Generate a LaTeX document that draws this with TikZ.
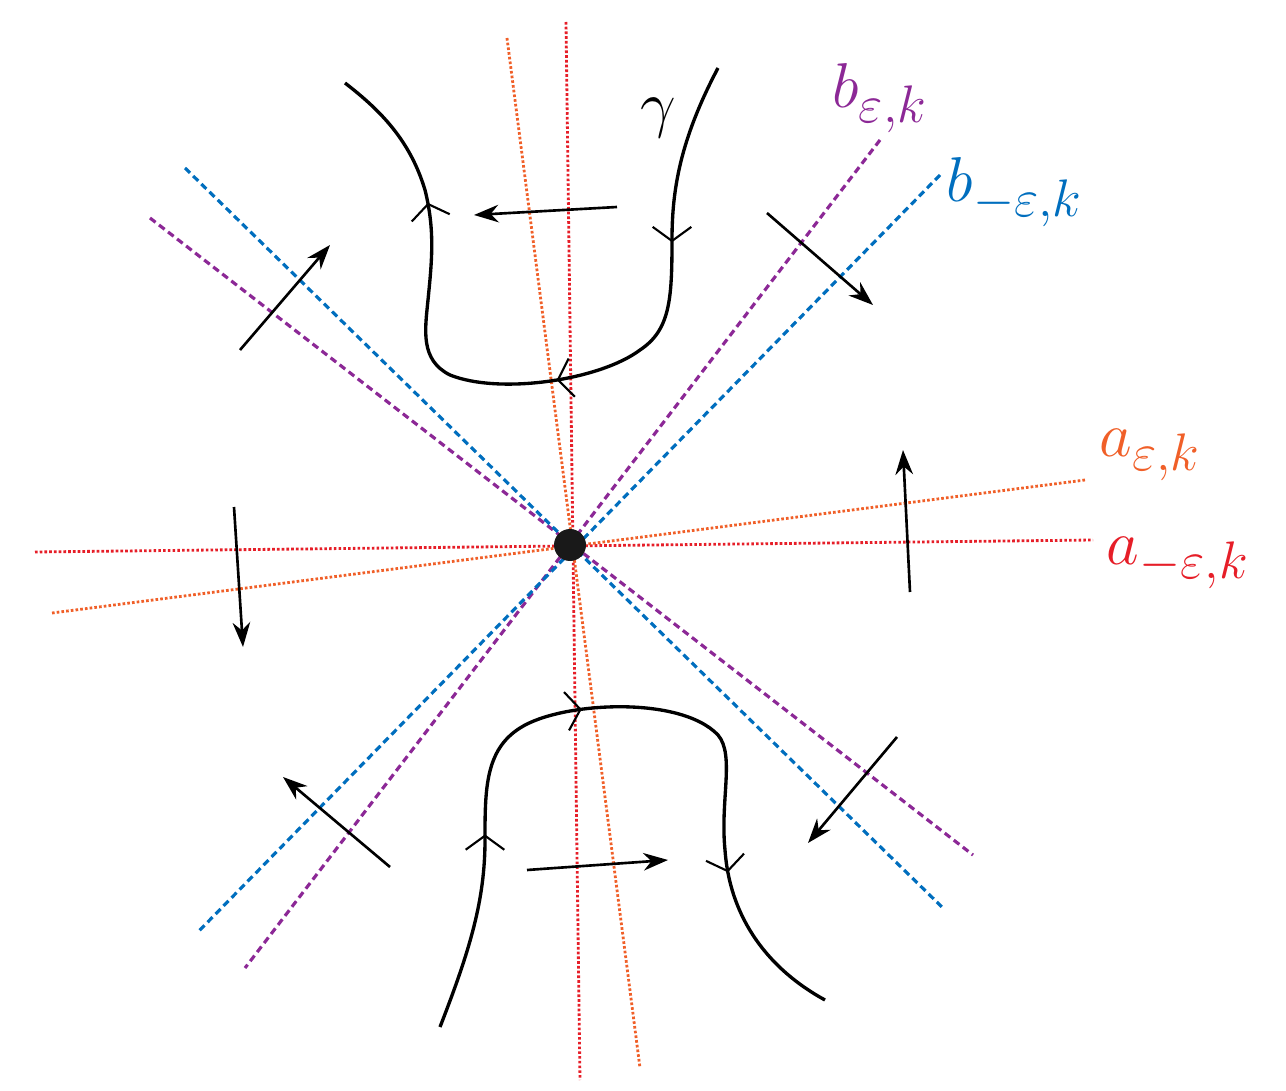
\documentclass[tikz,border=0pt]{standalone}
\usepackage{amsmath}
\usepackage{amssymb}
\usetikzlibrary{arrows.meta,decorations.markings}
\definecolor{lred}{RGB}{230,30,40}
\definecolor{lorange}{RGB}{240,95,40}
\definecolor{lpurple}{RGB}{140,40,150}
\definecolor{lblue}{RGB}{0,110,190}
\begin{document}
\begin{tikzpicture}[x=0.02cm,y=-0.02cm]

	\tikzstyle dotted line=[line width=1.6pt,dash pattern=on 1.5pt off 1.2pt];
	\tikzstyle dashed line=[line width=1.8pt,dash pattern=on 4pt off 2.5pt];
	\tikzstyle flow=[line width=1.5pt,-{Stealth[length=14pt,width=10pt]}];
	\tikzstyle curve=[line width=1.9pt,postaction={decorate}];
	\tikzstyle label=[scale=1.45,font=\Huge];

	\useasboundingbox (0,0) rectangle (1286,1091);

	% lines through the point
	\draw[dotted line,lred] (566,22) -- (580,1080);
	\draw[dotted line,lred] (35,552) -- (1093,540);
	\draw[dotted line,lorange] (507,38) -- (640,1068);
	\draw[dotted line,lorange] (52,613) -- (1085,480);
	\draw[dashed line,lpurple] (880,140) -- (245,968);
	\draw[dashed line,lpurple] (150,218) -- (973,855);
	\draw[dashed line,lblue] (940,175) -- (197,933);
	\draw[dashed line,lblue] (185,168) -- (943,908);

	\fill[black!90] (570,545) circle (16);

	% the curves
	\draw[curve,decoration={markings,
		mark=at position 0.22 with {\arrow{Straight Barb[length=8pt,width=22pt,line width=1.2pt]}},
		mark=at position 0.47 with {\arrow{Straight Barb[length=8pt,width=22pt,line width=1.2pt]}},
		mark=at position 0.82 with {\arrow{Straight Barb[length=8pt,width=22pt,line width=1.2pt]}}}]
		(718,68) .. controls (680,140) and (672,190) .. (672,240)
		.. controls (672,300) and (670,330) .. (640,350)
		.. controls (600,380) and (500,395) .. (450,375)
		.. controls (420,360) and (425,330) .. (428,300)
		.. controls (432,260) and (435,230) .. (425,190)
		.. controls (410,140) and (380,110) .. (345,83);
	\draw[curve,decoration={markings,
		mark=at position 0.24 with {\arrow{Straight Barb[length=8pt,width=22pt,line width=1.2pt]}},
		mark=at position 0.46 with {\arrow{Straight Barb[length=8pt,width=22pt,line width=1.2pt]}},
		mark=at position 0.8 with {\arrow{Straight Barb[length=8pt,width=22pt,line width=1.2pt]}}}]
		(440,1027) .. controls (470,950) and (485,900) .. (485,840)
		.. controls (485,790) and (485,750) .. (520,728)
		.. controls (560,702) and (680,695) .. (718,735)
		.. controls (735,755) and (720,800) .. (725,850)
		.. controls (730,920) and (770,970) .. (825,1000);

	% flow arrows
	\draw[flow] (617,207) -- (474,215);
	\draw[flow] (240,350) -- (330,245);
	\draw[flow] (767,213) -- (873,305);
	\draw[flow] (910,592) -- (903,450);
	\draw[flow] (234,507) -- (243,647);
	\draw[flow] (390,867) -- (283,777);
	\draw[flow] (527,870) -- (668,860);
	\draw[flow] (897,737) -- (808,843);

	% labels
	\node[label] (gamma) at (658,118) {$\gamma$};
	\node[label,lpurple] (bp) at (880,98) {$b_{\varepsilon,k}$};
	\node[label,lblue] (bm) at (1015,192) {$b_{-\varepsilon,k}$};
	\node[label,lorange] (ap) at (1150,455) {$a_{\varepsilon,k}$};
	\node[label,lred] (am) at (1178,563) {$a_{-\varepsilon,k}$};

\end{tikzpicture}
\end{document}
